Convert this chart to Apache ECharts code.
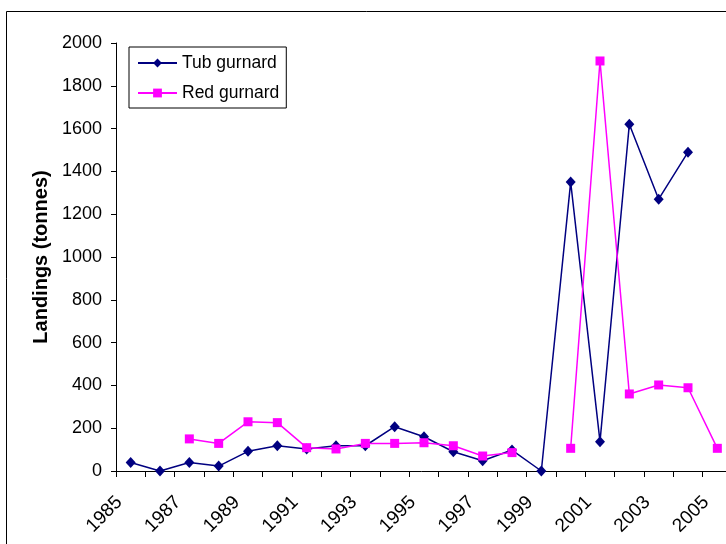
<!DOCTYPE html>
<html>
<head>
<meta charset="utf-8">
<script src="https://cdn.jsdelivr.net/npm/echarts@6/dist/echarts.min.js"></script>
<style>
html,body{margin:0;padding:0;background:#fff;}
#c{width:726px;height:544px;}
</style>
</head>
<body>
<div id="c"></div>
<script>
var years = ['1985','1986','1987','1988','1989','1990','1991','1992','1993','1994','1995','1996','1997','1998','1999','2000','2001','2002','2003','2004','2005'];
var tubGurnard = [40,0,40,23,92,118,103,118,118,207,160,90,48,98,0,1350,137,1620,1270,1490,null];
var redGurnard = [null,null,150,129,230,226,109,103,129,129,132,118,70,86,null,106,1916,360,402,389,106];
var yTicks = {min:0, max:2000, interval:200};

var chart = echarts.init(document.getElementById('c'));
var FONT = '"Liberation Sans", Arial, sans-serif';
chart.setOption({
  animation:false,
  backgroundColor:'#fff',
  graphic:[{type:'rect', shape:{x:6.5,y:11.5,width:1000,height:1000}, style:{fill:'none',stroke:'#000',lineWidth:1}, silent:true}],
  legend:{
    orient:'vertical', left:129, top:47,
    borderColor:'#000', borderWidth:1, borderRadius:0,
    padding:[7,7,6,8],
    itemWidth:39, itemHeight:11, itemGap:12,
    textStyle:{fontFamily:FONT, fontSize:17.5, color:'#000', lineHeight:18},
    data:['Tub gurnard','Red gurnard']
  },
  grid:{left:116, top:43, width:616, height:428, containLabel:false, outerBoundsMode:'none'},
  xAxis:{
    type:'category', data:years, boundaryGap:true,
    axisLine:{lineStyle:{color:'#000',width:1}},
    axisTick:{show:true, interval:0, length:6, lineStyle:{color:'#000'}},
    axisLabel:{interval:1, rotate:45, margin:17, padding:[0,16,0,0], fontFamily:FONT, fontSize:19, color:'#000'},
    splitLine:{show:false}
  },
  yAxis:{
    type:'value', min:yTicks.min, max:yTicks.max, interval:yTicks.interval,
    name:'Landings (tonnes)', nameLocation:'middle', nameGap:56,
    nameTextStyle:{fontFamily:FONT, fontSize:20, fontWeight:'bold', color:'#000'},
    axisLine:{show:true, lineStyle:{color:'#000',width:1}},
    axisTick:{show:true, inside:false, length:5, lineStyle:{color:'#000'}},
    axisLabel:{margin:14, fontFamily:FONT, fontSize:18, color:'#000', formatter:function(v){return String(v);}},
    splitLine:{show:false}
  },
  series:[
    {name:'Tub gurnard', type:'line', data:tubGurnard, connectNulls:false,
     symbol:'diamond', symbolSize:[10,11], showAllSymbol:true,
     lineStyle:{color:'#000080', width:1.5}, itemStyle:{color:'#000080'}},
    {name:'Red gurnard', type:'line', data:redGurnard, connectNulls:false,
     symbol:'rect', symbolSize:9, showAllSymbol:true,
     lineStyle:{color:'#FF00FF', width:1.5}, itemStyle:{color:'#FF00FF'}}
  ]
});
</script>
</body>
</html>
